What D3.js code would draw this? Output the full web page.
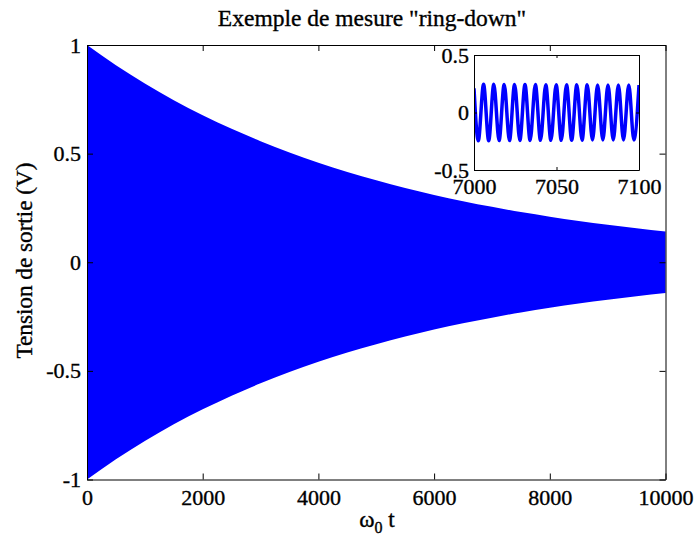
<!DOCTYPE html>
<html>
<head>
<meta charset="utf-8">
<script src="https://cdn.jsdelivr.net/npm/d3@7"></script>
<style>
  html, body { margin: 0; padding: 0; background: #fff; }
  svg { display: block; }
  text { font-family: "Liberation Serif", "Times New Roman", serif; fill: #000; stroke: #000; stroke-width: 0.35px; }
</style>
</head>
<body>
<svg id="chart" width="695" height="535"></svg>
<script>
// ---- data ----
const titleText = 'Exemple de mesure "ring-down"';
const yLabelText = "Tension de sortie (V)";

// envelope of the decaying oscillation (upper edge of the filled band)
const envT   = [0, 500, 1000, 1500, 2000, 2500, 3000, 3500, 4000, 4500, 5000,
                5500, 6000, 6500, 7000, 7500, 8000, 8500, 9000, 9500, 10000];
const envAmp = [1.000, 0.907, 0.823, 0.746, 0.677, 0.614, 0.557, 0.505, 0.458, 0.415, 0.377,
                0.342, 0.310, 0.281, 0.255, 0.231, 0.210, 0.190, 0.173, 0.157, 0.142];

const mainXTicks = [0, 2000, 4000, 6000, 8000, 10000];
const mainXTickLabels = ["0", "2000", "4000", "6000", "8000", "10000"];
const mainYTicks = [-1, -0.5, 0, 0.5, 1];
const mainYTickLabels = ["-1", "-0.5", "0", "0.5", "1"];

// inset: zoom on 7000..7100, successive extremes of the oscillation
const insetT = [7000.0, 7002.6, 7005.8, 7008.9, 7012.0, 7015.2, 7018.3, 7021.5, 7024.6,
                7027.8, 7030.9, 7034.0, 7037.2, 7040.3, 7043.5, 7046.6, 7049.8, 7052.9,
                7056.1, 7059.2, 7062.3, 7065.5, 7068.6, 7071.8, 7074.9, 7078.1, 7081.2,
                7084.4, 7087.5, 7090.6, 7093.8, 7096.9, 7100.0];
const insetV = [0.21, -0.245, 0.245, -0.245, 0.245, -0.244, 0.244, -0.244, 0.244,
                -0.243, 0.243, -0.243, 0.243, -0.242, 0.242, -0.242, 0.242, -0.242,
                0.241, -0.241, 0.241, -0.241, 0.241, -0.240, 0.240, -0.240, 0.240,
                -0.240, 0.240, -0.239, 0.239, -0.239, 0.239];
const insetXTicks = [7000, 7050, 7100];
const insetXTickLabels = ["7000", "7050", "7100"];
const insetYTicks = [-0.5, 0, 0.5];
const insetYTickLabels = ["-0.5", "0", "0.5"];

// ---- layout ----
const svg = d3.select("#chart");
const M = { left: 87, right: 665.5, top: 45, bottom: 479.5 };
const I = { left: 474, right: 639, top: 55, bottom: 170 };
const FS = 22;
const LFS = 23.2;

const x = d3.scaleLinear().domain([0, 10000]).range([M.left, M.right]);
const y = d3.scaleLinear().domain([-1, 1]).range([M.bottom, M.top]);

// filled band
const band = d3.area()
  .x((d, i) => x(envT[i]))
  .y0((d, i) => y(-envAmp[i]))
  .y1((d, i) => y(envAmp[i]))
  .curve(d3.curveMonotoneX);
svg.append("path").datum(envAmp).attr("d", band).attr("fill", "#0000ff");

function styleAxis(g) {
  g.select(".domain").attr("stroke", "#000").attr("stroke-width", 1);
  g.selectAll(".tick line").attr("stroke", "#000").attr("stroke-width", 1);
  g.selectAll("text").attr("font-family", '"Liberation Serif", "Times New Roman", serif')
    .attr("font-size", FS).attr("fill", "#000");
}

// main axes
svg.append("g").attr("transform", `translate(0,${M.bottom})`)
  .call(d3.axisBottom(x).tickValues(mainXTicks).tickSizeInner(-6).tickSizeOuter(0)
        .tickPadding(9).tickFormat((d, i) => mainXTickLabels[i]))
  .call(styleAxis)
  .call(g => g.selectAll("text").attr("dy", "0.75em"));
svg.append("g").attr("transform", `translate(0,${M.top})`)
  .call(d3.axisTop(x).tickValues(mainXTicks).tickSizeInner(-6).tickSizeOuter(0).tickFormat(""))
  .call(styleAxis);
svg.append("g").attr("transform", `translate(${M.left},0)`)
  .call(d3.axisLeft(y).tickValues(mainYTicks).tickSizeInner(-6).tickSizeOuter(0)
        .tickPadding(6).tickFormat((d, i) => mainYTickLabels[i]))
  .call(styleAxis);
svg.append("g").attr("transform", `translate(${M.right},0)`)
  .call(d3.axisRight(y).tickValues(mainYTicks).tickSizeInner(-6).tickSizeOuter(0).tickFormat(""))
  .call(styleAxis);

// title and labels
svg.append("text").attr("x", 372).attr("y", 26).attr("text-anchor", "middle")
  .attr("font-size", 23.5).text(titleText);
svg.append("text").attr("transform", `translate(32,260.5) rotate(-90)`)
  .attr("text-anchor", "middle").attr("font-size", LFS).text(yLabelText);
const xl = svg.append("text").attr("x", 377).attr("y", 527).attr("text-anchor", "middle")
  .attr("font-size", LFS);
xl.append("tspan").text("\u03c9");
xl.append("tspan").attr("dy", 6).attr("font-size", 16).text("0");
xl.append("tspan").attr("dy", -6).text(" t");

// ---- inset ----
const xi = d3.scaleLinear().domain([7000, 7100]).range([I.left, I.right]);
const yi = d3.scaleLinear().domain([-0.5, 0.5]).range([I.bottom, I.top]);
svg.append("rect").attr("x", I.left).attr("y", I.top)
  .attr("width", I.right - I.left).attr("height", I.bottom - I.top).attr("fill", "#fff");

svg.append("defs").append("clipPath").attr("id", "insetClip")
  .append("rect").attr("x", I.left).attr("y", I.top - 5)
  .attr("width", I.right - I.left).attr("height", I.bottom - I.top + 10);

const wave = d3.line().x((d, i) => xi(insetT[i])).y(d => yi(d)).curve(d3.curveMonotoneX);
svg.append("path").datum(insetV).attr("d", wave).attr("fill", "none")
  .attr("stroke", "#0000ff").attr("stroke-width", 3.5).attr("clip-path", "url(#insetClip)");

svg.append("g").attr("transform", `translate(0,${I.bottom})`)
  .call(d3.axisBottom(xi).tickValues(insetXTicks).tickSizeInner(-3).tickSizeOuter(0)
        .tickPadding(7).tickFormat((d, i) => insetXTickLabels[i]))
  .call(styleAxis)
  .call(g => g.selectAll("text").attr("dy", "0.75em"));
svg.append("g").attr("transform", `translate(0,${I.top})`)
  .call(d3.axisTop(xi).tickValues(insetXTicks).tickSizeInner(-3).tickSizeOuter(0).tickFormat(""))
  .call(styleAxis);
svg.append("g").attr("transform", `translate(${I.left},0)`)
  .call(d3.axisLeft(yi).tickValues(insetYTicks).tickSizeInner(-3).tickSizeOuter(0)
        .tickPadding(5).tickFormat((d, i) => insetYTickLabels[i]))
  .call(styleAxis);
svg.append("g").attr("transform", `translate(${I.right},0)`)
  .call(d3.axisRight(yi).tickValues(insetYTicks).tickSizeInner(-3).tickSizeOuter(0).tickFormat(""))
  .call(styleAxis);
</script>
</body>
</html>
